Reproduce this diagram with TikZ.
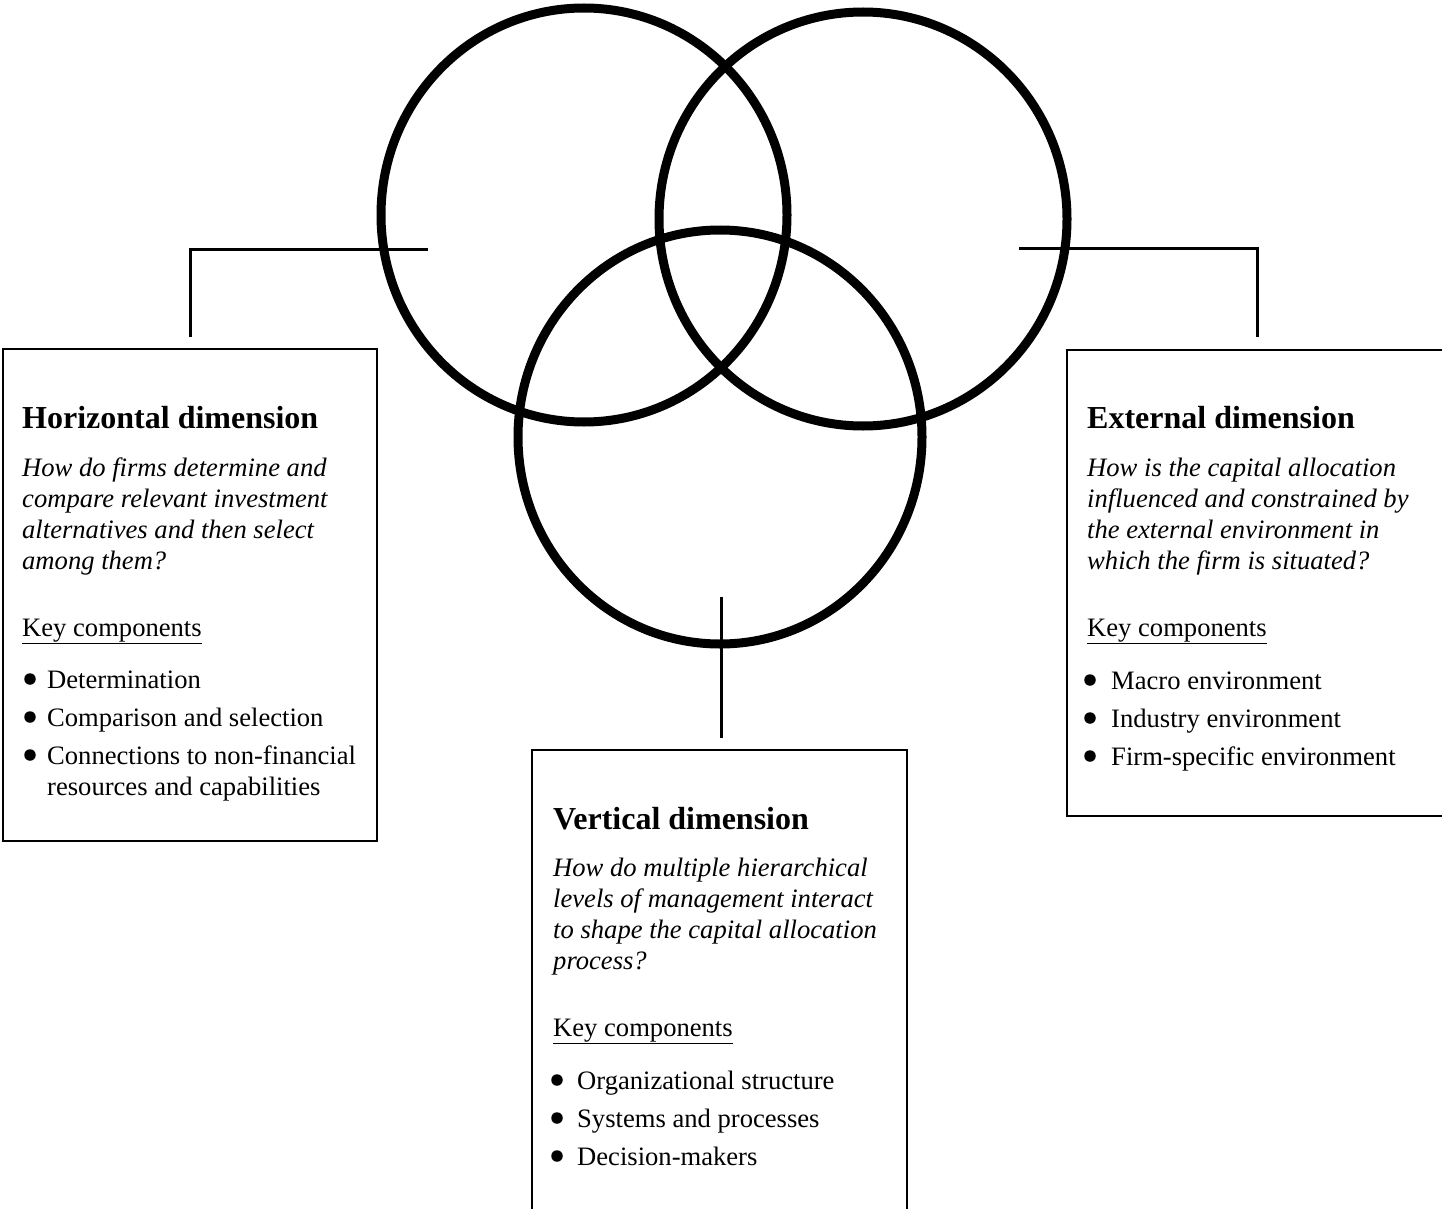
\documentclass[tikz,border=0pt]{standalone}
\usepackage{fontspec}
\setmainfont{Liberation Serif}
\begin{document}
\begin{tikzpicture}[x=1pt,y=-1pt,
  ring/.style={line width=9pt},
  link/.style={line width=3pt},
  frame/.style={line width=2pt},
  ttl/.style={anchor=base west, inner sep=0pt, font=\fontsize{32}{38}\selectfont\bfseries},
  qtxt/.style={anchor=base west, inner sep=0pt, font=\fontsize{26.6}{31}\selectfont\itshape},
  btxt/.style={anchor=base west, inner sep=0pt, font=\fontsize{26.6}{31}\selectfont},
  bul/.style={circle, fill=black, inner sep=0pt, minimum size=11.5pt}]
\useasboundingbox (0,0) rectangle (1442,1209);
% circles
\draw[ring] (584,215) ellipse [x radius=203pt, y radius=207pt];
\draw[ring] (863,219) ellipse [x radius=204pt, y radius=207pt];
\draw[ring] (720,437) ellipse [x radius=202pt, y radius=207pt];
% connector coordinates
\coordinate (lc) at (428,249);
\coordinate (lk) at (190,249);
\coordinate (le) at (190,337);
\coordinate (rc) at (1019,248);
\coordinate (rk) at (1257,248);
\coordinate (re) at (1257,337);
\coordinate (bc) at (721,597);
\coordinate (be) at (721,738);
\draw[link] (lc) -- (lk) -- (le);
\draw[link] (rc) -- (rk) -- (re);
\draw[link] (bc) -- (be);
% boxes
\draw[frame] (3,349) rectangle (377,841);
\draw[frame] (1450,350) -- (1067,350) -- (1067,816) -- (1450,816);
\draw[frame] (532,1215) -- (532,750) -- (907,750) -- (907,1215);
% horizontal box text
\begin{scope}[shift={(3,349)}]
\node[ttl] (ht) at (19,79) {Horizontal dimension};
\node[qtxt] (hq1) at (19,127) {How do firms determine and};
\node[qtxt] (hq2) at (19,158) {compare relevant investment};
\node[qtxt] (hq3) at (19,189) {alternatives and then select};
\node[qtxt] (hq4) at (19,220) {among them?};
\node[btxt] (hk) at (19,287) {\underline{Key components}};
\node[bul] (hd1) at (27,330) {};
\node[btxt] (hb1) at (44,339) {Determination};
\node[bul] (hd2) at (27,368) {};
\node[btxt] (hb2) at (44,377) {Comparison and selection};
\node[bul] (hd3) at (27,406) {};
\node[btxt] (hb3) at (44,415) {Connections to non-financial};
\node[btxt] (hb4) at (44,446) {resources and capabilities};
\end{scope}
% external box text
\begin{scope}[shift={(1067,350)}]
\node[ttl] (et) at (20,78) {External dimension};
\node[qtxt] (eq1) at (20,126) {How is the capital allocation};
\node[qtxt] (eq2) at (20,157) {influenced and constrained by};
\node[qtxt] (eq3) at (20,188) {the external environment in};
\node[qtxt] (eq4) at (20,219) {which the firm is situated?};
\node[btxt] (ek) at (20,286) {\underline{Key components}};
\node[bul] (ed1) at (23,330) {};
\node[btxt] (eb1) at (44,339) {Macro environment};
\node[bul] (ed2) at (23,368) {};
\node[btxt] (eb2) at (44,377) {Industry environment};
\node[bul] (ed3) at (23,406) {};
\node[btxt] (eb3) at (44,415) {Firm-specific environment};
\end{scope}
% vertical box text
\begin{scope}[shift={(532,750)}]
\node[ttl] (vt) at (21,79) {Vertical dimension};
\node[qtxt] (vq1) at (21,126) {How do multiple hierarchical};
\node[qtxt] (vq2) at (21,157) {levels of management interact};
\node[qtxt] (vq3) at (21,188) {to shape the capital allocation};
\node[qtxt] (vq4) at (21,219) {process?};
\node[btxt] (vk) at (21,286) {\underline{Key components}};
\node[bul] (vd1) at (25,330) {};
\node[btxt] (vb1) at (45,339) {Organizational structure};
\node[bul] (vd2) at (25,368) {};
\node[btxt] (vb2) at (45,377) {Systems and processes};
\node[bul] (vd3) at (25,406) {};
\node[btxt] (vb3) at (45,415) {Decision-makers};
\end{scope}
\end{tikzpicture}
\end{document}
